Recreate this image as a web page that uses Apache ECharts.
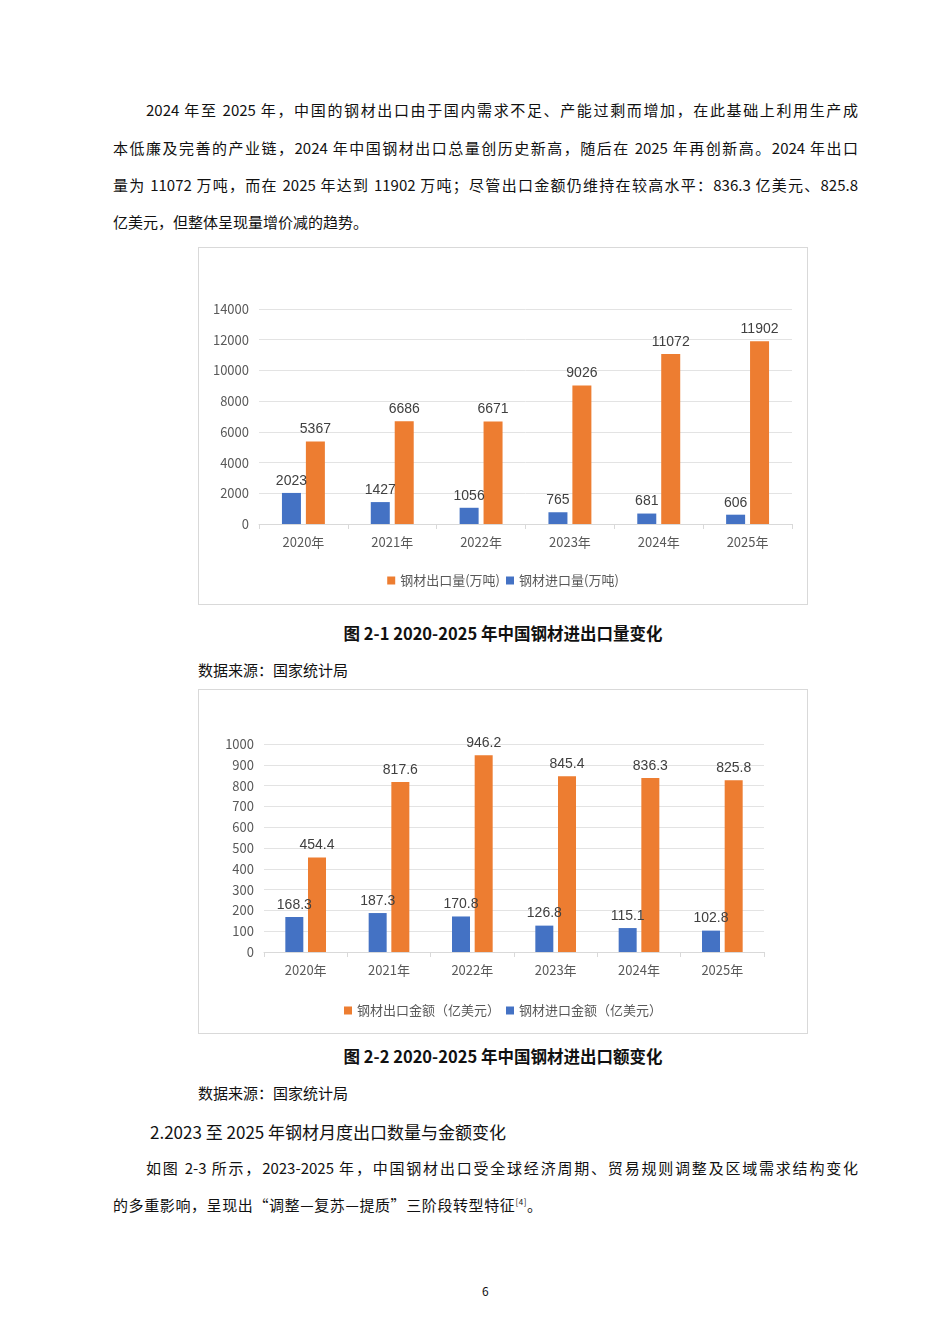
<!DOCTYPE html>
<html><head><meta charset="utf-8">
<script src="https://cdn.jsdelivr.net/npm/echarts@6/dist/echarts.min.js"></script>
<style>
body{margin:0;background:#fff;width:950px;height:1344px;position:relative;font-family:"Noto Sans CJK SC",sans-serif;color:#111;}
.t{position:absolute;font-size:15px;white-space:nowrap;}
.j{white-space:normal;text-align:justify;text-align-last:justify;}
.box{position:absolute;border:1px solid #d9d9d9;box-sizing:border-box;}
.cap{position:absolute;left:0;width:1006px;text-align:center;font-size:16.5px;font-weight:bold;}
</style></head><body>
<div class="t j" style="left:146px;top:99px;width:712px">2024 年至 2025 年，中国的钢材出口由于国内需求不足、产能过剩而增加，在此基础上利用生产成</div>
<div class="t j" style="left:113px;top:137px;width:745px">本低廉及完善的产业链，2024 年中国钢材出口总量创历史新高，随后在 2025 年再创新高。2024 年出口</div>
<div class="t j" style="left:113px;top:174px;width:745px">量为 11072 万吨，而在 2025 年达到 11902 万吨；尽管出口金额仍维持在较高水平：836.3 亿美元、825.8</div>
<div class="t" style="left:113px;top:211px">亿美元，但整体呈现量增价减的趋势。</div>
<div class="box" id="c1" style="left:198px;top:247px;width:610px;height:358px"></div>
<div class="cap" style="top:621px">图 2-1 2020-2025 年中国钢材进出口量变化</div>
<div class="t" style="left:198px;top:659px">数据来源：国家统计局</div>
<div class="box" id="c2" style="left:198px;top:689px;width:610px;height:345px"></div>
<div class="cap" style="top:1044px">图 2-2 2020-2025 年中国钢材进出口额变化</div>
<div class="t" style="left:198px;top:1082px">数据来源：国家统计局</div>
<div class="t" style="left:150px;top:1119px;font-size:17px">2.2023 至 2025 年钢材月度出口数量与金额变化</div>
<div class="t j" style="left:146px;top:1157px;width:712px">如图 2-3 所示，2023-2025 年，中国钢材出口受全球经济周期、贸易规则调整及区域需求结构变化</div>
<div class="t" style="left:113px;top:1194px;letter-spacing:0.6px">的多重影响，呈现出“调整—复苏—提质”三阶段转型特征<sup style="font-size:8px">[4]</sup>。</div>
<div class="t" style="left:482px;top:1282px;font-size:12px">6</div>
<script>
const years = ['2020年','2021年','2022年','2023年','2024年','2025年'];
const exportQty = [5367, 6686, 6671, 9026, 11072, 11902];
const importQty = [2023, 1427, 1056, 765, 681, 606];
const exportAmt = [454.4, 817.6, 946.2, 845.4, 836.3, 825.8];
const importAmt = [168.3, 187.3, 170.8, 126.8, 115.1, 102.8];

const ORANGE = '#ED7D31', BLUE = '#4472C4';
const txt = { color: '#595959', fontSize: 13, fontFamily: '"Noto Sans CJK SC", sans-serif' };

function makeOption(grid, yMax, yInt, names, imp, exp, barW, legendTop) {
    return {
        animation: false,
        grid: grid,
        legend: {
            data: [names[1], names[0]], top: legendTop, left: 'center',
            icon: 'rect', itemWidth: 8, itemHeight: 8, itemGap: 6,
            textStyle: txt
        },
        xAxis: {
            type: 'category', data: years,
            axisLine: { lineStyle: { color: '#d9d9d9' } },
            axisTick: { show: true, lineStyle: { color: '#d9d9d9' } },
            axisLabel: Object.assign({ margin: 12 }, txt)
        },
        yAxis: {
            type: 'value', min: 0, max: yMax, interval: yInt,
            axisLine: { show: false }, axisTick: { show: false },
            splitLine: { lineStyle: { color: '#e3e3e3' } },
            axisLabel: Object.assign({ margin: 10, formatter: v => String(v) }, txt)
        },
        series: [
            { name: names[0], type: 'bar', data: imp, barWidth: barW, barGap: '26%',
              itemStyle: { color: BLUE },
              label: { show: true, position: 'top', color: '#404040', fontSize: 14, offset: [0, 0] } },
            { name: names[1], type: 'bar', data: exp, barWidth: barW,
              itemStyle: { color: ORANGE },
              label: { show: true, position: 'top', color: '#404040', fontSize: 14, offset: [0, 0] } }
        ]
    };
}

echarts.init(document.getElementById('c1')).setOption(makeOption(
    { left: 60, right: 15, top: 61, bottom: 80 }, 14000, 2000,
    ['钢材进口量(万吨)', '钢材出口量(万吨)'], importQty, exportQty, 19, 321));
echarts.init(document.getElementById('c2')).setOption(makeOption(
    { left: 65, right: 43, top: 54, bottom: 81 }, 1000, 100,
    ['钢材进口金额（亿美元）', '钢材出口金额（亿美元）'], importAmt, exportAmt, 18, 309));
</script>
</body></html>
